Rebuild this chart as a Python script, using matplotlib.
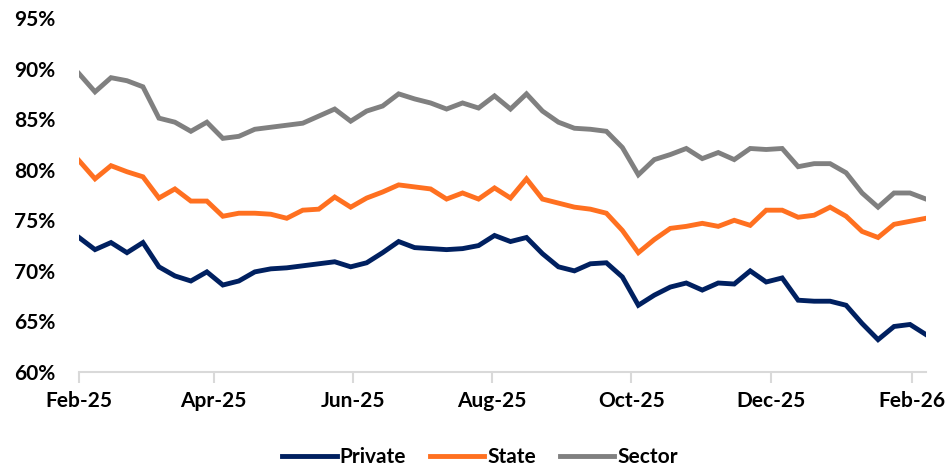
import numpy as np
import pandas as pd
import matplotlib
matplotlib.use("Agg")
import matplotlib.pyplot as plt
import matplotlib.dates as mdates
from matplotlib.ticker import FuncFormatter

# weekly readings, Feb-2025 .. Feb-2026
dates = pd.date_range("2025-02-01", periods=54, freq="7D")

private = [73.3, 72.1, 72.8, 71.8, 72.8, 70.4, 69.5, 69.0, 69.9, 68.6,
           69.0, 69.9, 70.2, 70.3, 70.5, 70.7, 70.9, 70.4, 70.8, 71.8,
           72.9, 72.3, 72.2, 72.1, 72.2, 72.5, 73.5, 72.9, 73.3, 71.7,
           70.4, 70.0, 70.7, 70.8, 69.4, 66.6, 67.6, 68.4, 68.8, 68.1,
           68.8, 68.7, 70.0, 68.9, 69.3, 67.1, 67.0, 67.0, 66.6, 64.8,
           63.2, 64.5, 64.7, 63.7]
state = [80.9, 79.1, 80.4, 79.8, 79.3, 77.2, 78.1, 76.9, 76.9, 75.4,
         75.7, 75.7, 75.6, 75.2, 76.0, 76.1, 77.3, 76.3, 77.2, 77.8,
         78.5, 78.3, 78.1, 77.1, 77.7, 77.1, 78.2, 77.2, 79.1, 77.1,
         76.7, 76.3, 76.1, 75.7, 74.0, 71.8, 73.1, 74.2, 74.4, 74.7,
         74.4, 75.0, 74.5, 76.0, 76.0, 75.3, 75.5, 76.3, 75.4, 73.9,
         73.3, 74.6, 74.9, 75.2]
sector = [89.5, 87.7, 89.1, 88.8, 88.2, 85.1, 84.7, 83.8, 84.7, 83.1,
          83.3, 84.0, 84.2, 84.4, 84.6, 85.3, 86.0, 84.8, 85.8, 86.3,
          87.5, 87.0, 86.6, 86.0, 86.6, 86.1, 87.3, 86.0, 87.5, 85.8,
          84.7, 84.1, 84.0, 83.8, 82.2, 79.5, 81.0, 81.5, 82.1, 81.1,
          81.7, 81.0, 82.1, 82.0, 82.1, 80.3, 80.6, 80.6, 79.7, 77.7,
          76.3, 77.7, 77.7, 77.1]

names = ["Private", "State", "Sector"]
colors = ["#002060", "#FF7020", "#808080"]

plt.rcParams["font.family"] = ["Lato", "DejaVu Sans"]
plt.rcParams["font.weight"] = "bold"

fig = plt.figure(figsize=(9.51, 4.69), dpi=100)
ax = fig.add_axes([0.0831, 0.2068, 0.8906, 0.7548])

for vals, name, col in zip([private, state, sector], names, colors):
    ax.plot(dates, vals, color=col, lw=3.5, label=name, solid_joinstyle="miter")

ax.set_ylim(60, 95)
ax.set_yticks(np.arange(60, 96, 5))
ax.yaxis.set_major_formatter(FuncFormatter(lambda v, p: "%d%%" % v))
ax.set_xlim(dates[0], dates[-1])
ticks = pd.date_range("2025-02-01", "2026-02-01", freq="2MS")
ax.set_xticks(ticks)
ax.xaxis.set_major_formatter(mdates.DateFormatter("%b-%y"))

for s in ["top", "right", "left"]:
    ax.spines[s].set_visible(False)
ax.spines["bottom"].set_color("#d9d9d9")
ax.spines["bottom"].set_linewidth(1.5)
ax.tick_params(axis="y", length=0, pad=17, labelsize=15)
ax.tick_params(axis="x", length=8, width=1.5, color="#d9d9d9", pad=6, labelsize=15)
for t in ax.get_xticklabels() + ax.get_yticklabels():
    t.set_fontweight("bold")

ax.legend(loc="center", bbox_to_anchor=(0.505, 1 - 457 / 469),
          bbox_transform=fig.transFigure, ncol=3, frameon=False,
          handlelength=2.6, handletextpad=0.15, columnspacing=1.15,
          prop={"weight": "bold", "size": 15})

fig.savefig("out.png", dpi=100)
